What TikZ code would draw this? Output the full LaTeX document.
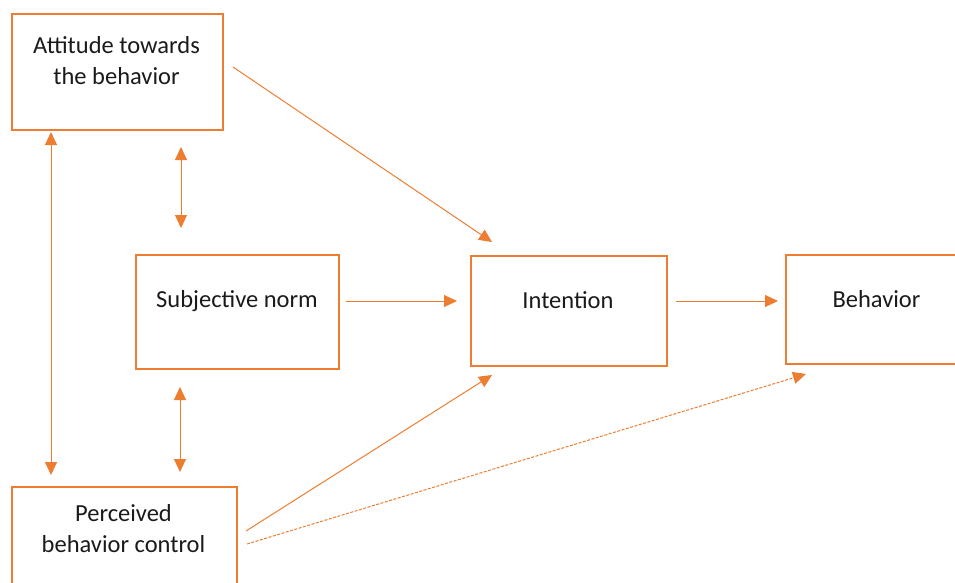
\documentclass[tikz,border=0pt]{standalone}
\usepackage{fontspec}
\setmainfont{Carlito}
\usetikzlibrary{arrows.meta}
\definecolor{org}{HTML}{ED7D31}
\definecolor{txt}{HTML}{1A1A1A}
\begin{document}
\begin{tikzpicture}[x=1pt,y=-1pt,
  box/.style={draw=org, line width=2pt, inner sep=0pt, anchor=north west},
  lbl/.style={align=center, text=txt, font=\fontsize{24.5}{31}\selectfont, inner sep=0pt},
  tip/.style={Triangle[length=13pt,width=12pt]},
  conn/.style={draw=org, line width=1pt, -{Triangle[length=13pt,width=12pt]}},
  biconn/.style={draw=org, line width=1pt, {Triangle[length=13pt,width=12pt]}-{Triangle[length=13pt,width=12pt]}},
  dconn/.style={conn, dash pattern=on 3pt off 1.5pt}]
\useasboundingbox (0,0) rectangle (955,583);
% boxes
\node[box, minimum width=211pt, minimum height=116pt] (att) at (11,13) {};
\node[box, minimum width=203pt, minimum height=114pt] (subj) at (135,254) {};
\node[box, minimum width=196pt, minimum height=110pt] (int) at (470,255) {};
\node[box, minimum width=183pt, minimum height=109pt] (beh) at (785,254) {};
\node[box, minimum width=225pt, minimum height=130pt] (perc) at (11,486) {};
% labels
\node[lbl] (attT) at (116.5,61) {Attitude towards\\the behavior};
\node[lbl] (subjT) at (237,301) {Subjective norm};
\node[lbl] (intT) at (568,300) {Intention};
\node[lbl] (behT) at (876.5,299) {Behavior};
\node[lbl] (percT) at (123.5,529) {Perceived\\behavior control};
% connector end points
\coordinate (attOut) at (233,67);
\coordinate (intInA) at (492,242);
\coordinate (subjOut) at (346,301);
\coordinate (intInS) at (457,301);
\coordinate (intOut) at (676,301);
\coordinate (behIn) at (778,301);
\coordinate (percOutI) at (246,531);
\coordinate (intInP) at (492,375);
\coordinate (percOutB) at (247,544);
\coordinate (behInP) at (806,374);
\coordinate (asTop) at (181,147);
\coordinate (asBot) at (181,228);
\coordinate (spTop) at (180,387);
\coordinate (spBot) at (180,472);
\coordinate (apTop) at (51,132);
\coordinate (apBot) at (51,475);
% connectors
\draw[conn] (attOut) -- (intInA);
\draw[conn] (subjOut) -- (intInS);
\draw[conn] (intOut) -- (behIn);
\draw[conn] (percOutI) -- (intInP);
\draw[dconn] (percOutB) -- (behInP);
\draw[biconn] (asTop) -- (asBot);
\draw[biconn] (spTop) -- (spBot);
\draw[biconn] (apTop) -- (apBot);
\end{tikzpicture}
\end{document}
